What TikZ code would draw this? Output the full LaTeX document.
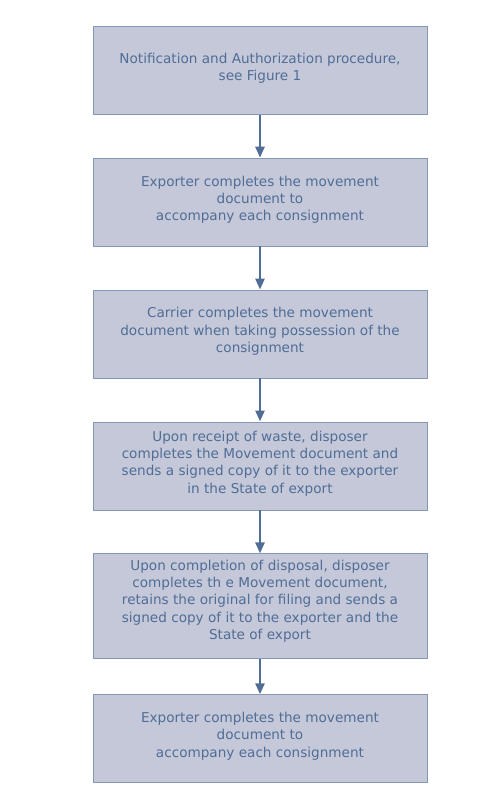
\documentclass[tikz,border=0pt]{standalone}
\usepackage{fontspec}
\setmainfont{DejaVu Sans}
\usetikzlibrary{positioning,arrows.meta}
\definecolor{boxfill}{HTML}{C5C8D9}
\definecolor{boxline}{HTML}{8498BA}
\definecolor{steptext}{HTML}{4F6D95}
\begin{document}
\begin{tikzpicture}[every node/.style={draw=boxline,fill=boxfill,text=steptext,align=center,
      minimum width=334pt,inner sep=0pt,font=\fontsize{13.6}{17.3}\selectfont},
      short/.style={minimum height=88pt,text depth=7.5pt},
      tall/.style={minimum height=105pt,text depth=13pt},
      flow/.style={draw=steptext,line width=2.5pt,-{Triangle[length=11pt,width=9pt]}}]
  \useasboundingbox (0,0) rectangle (500pt,-806pt);
  \node[short] (m0) at (260pt,-70.5pt) {Notification and Authorization procedure,\\see Figure 1};
  \node[short] (m1) [below=43pt of m0] {Exporter completes the movement\\document to\\accompany each consignment};
  \node[short] (m2) [below=43.5pt of m1] {Carrier completes the movement\\document when taking possession of the\\consignment};
  \node[short] (m3) [below=43.5pt of m2] {Upon receipt of waste, disposer\\completes the Movement document and\\sends a signed copy of it to the exporter\\in the State of export};
  \node[tall] (m4) [below=43.5pt of m3] {Upon completion of disposal, disposer\\completes th e Movement document,\\retains the original for filing and sends a\\signed copy of it to the exporter and the\\State of export};
  \node[short] (m5) [below=35.5pt of m4] {Exporter completes the movement\\document to\\accompany each consignment};
  \draw[flow] (m0) -- (m1);
  \draw[flow] (m1) -- (m2);
  \draw[flow] (m2) -- (m3);
  \draw[flow] (m3) -- (m4);
  \draw[flow] (m4) -- (m5);
\end{tikzpicture}
\end{document}
